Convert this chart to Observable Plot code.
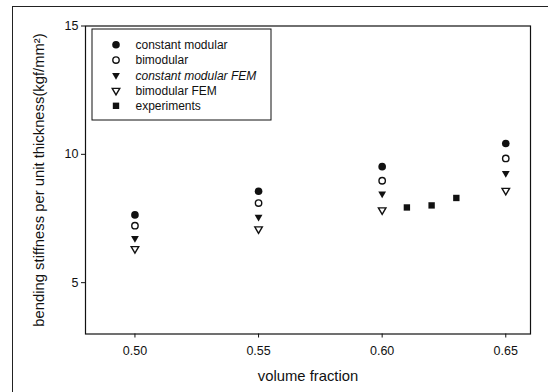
<!DOCTYPE html>
<html>
<head>
<meta charset="utf-8">
<script src="https://cdn.jsdelivr.net/npm/d3@7"></script>
<script src="https://cdn.jsdelivr.net/npm/@observablehq/plot@0.6"></script>
<style>
  body { margin: 0; background: #fff; }
  #fig { position: relative; width: 548px; height: 392px; overflow: hidden;
         font-family: "Liberation Sans", Arial, Helvetica, sans-serif; color: #111; }
  #edge { position: absolute; left: 12px; top: 6px; width: 600px; height: 500px;
          border-left: 1.5px solid #222; border-top: 1.5px solid #222; }
  #fig svg { position: absolute; left: 0; top: 0; }
</style>
</head>
<body>
<div id="fig"><div id="edge"></div></div>
<script>
// Bending stiffness per unit thickness against fibre volume fraction
const volumeFraction     = [0.50, 0.55, 0.60, 0.65];
const constantModular    = [7.64, 8.56, 9.52, 10.42];
const bimodular          = [7.22, 8.10, 8.97, 9.84];
const constantModularFEM = [6.73, 7.56, 8.46, 9.26];
const bimodularFEM       = [6.32, 7.09, 7.83, 8.59];
const experimentFraction = [0.61, 0.62, 0.63];
const experiments        = [7.93, 8.01, 8.30];

const xTicks = [0.50, 0.55, 0.60, 0.65];
const yTicks = [5, 10, 15];
const seriesNames = ["constant modular", "bimodular", "constant modular FEM", "bimodular FEM", "experiments"];
const xTitle = "volume fraction";
const yTitle = "bending stiffness per unit thickness(kgf/mm²)";

const ink = "#111";
// marker style per series (same order as seriesNames)
const styles = [
  {symbol: "circle",   r: 3.8, fill: ink,    stroke: "none", rotate: 0},
  {symbol: "circle",   r: 3.2, fill: "#fff", stroke: ink,    rotate: 0},
  {symbol: "triangle", r: 2.9, fill: ink,    stroke: "none", rotate: 180},
  {symbol: "triangle", r: 2.8, fill: "#fff", stroke: ink,    rotate: 180},
  {symbol: "square",   r: 3.6, fill: ink,    stroke: "none", rotate: 0}
];
const italicSeries = ["constant modular FEM"];

const seriesValues = [constantModular, bimodular, constantModularFEM, bimodularFEM];
const rows = (xs, ys) => xs.map((x, i) => ({x, y: ys[i]}));

const dotMarks = seriesValues.map((ys, k) =>
  Plot.dot(rows(volumeFraction, ys), {x: "x", y: "y", ...styles[k], strokeWidth: 1.4})
);
dotMarks.push(Plot.dot(rows(experimentFraction, experiments), {x: "x", y: "y", ...styles[4]}));

const chart = Plot.plot({
  width: 548,
  height: 392,
  marginLeft: 85,
  marginRight: 18,
  marginTop: 25.5,
  marginBottom: 58.5,
  style: {fontFamily: "'Liberation Sans', Arial, Helvetica, sans-serif", fontSize: "12.5px", color: ink, background: "transparent"},
  x: {domain: [0.48, 0.66]},
  y: {domain: [3, 15]},
  marks: [
    Plot.frame({stroke: ink, strokeWidth: 1.2}),
    Plot.axisY(yTicks, {tickSize: 4, tickPadding: 3, label: yTitle,
      labelAnchor: "center", labelArrow: "none", labelOffset: 52}),
    Plot.axisX(xTicks, {tickSize: 4, tickPadding: 8, tickFormat: d3.format(".2f"),
      label: xTitle, labelAnchor: "center", labelArrow: "none", labelOffset: 47}),
    ...dotMarks
  ]
});

// axis titles are larger than the tick labels
chart.querySelectorAll("text").forEach(t => {
  if (t.textContent === xTitle || t.textContent === yTitle) t.style.fontSize = "14.8px";
});

// legend box in the upper-left corner of the frame
const svg = d3.select(chart);
const legend = svg.append("g").attr("transform", "translate(92,29)");
legend.append("rect").attr("width", 179).attr("height", 91)
  .attr("fill", "#fff").attr("stroke", ink).attr("stroke-width", 1);
seriesNames.forEach((name, i) => {
  const s = styles[i];
  const row = legend.append("g").attr("transform", `translate(24,${15.8 + i * 15.25})`);
  if (s.symbol === "circle") {
    row.append("circle").attr("r", s.r).attr("fill", s.fill).attr("stroke", s.stroke).attr("stroke-width", 1.4);
  } else {
    const type = s.symbol === "triangle" ? d3.symbolTriangle : d3.symbolSquare;
    row.append("path").attr("d", d3.symbol(type, Math.PI * s.r * s.r)())
      .attr("transform", `rotate(${s.rotate})`)
      .attr("fill", s.fill).attr("stroke", s.stroke).attr("stroke-width", 1.4);
  }
  row.append("text").attr("x", 19.5).attr("dy", "0.35em")
    .attr("text-anchor", "start")
    .attr("font-size", "12px")
    .attr("font-style", italicSeries.includes(name) ? "italic" : "normal")
    .attr("fill", ink).text(name);
});

document.getElementById("fig").appendChild(chart);
</script>
</body>
</html>
